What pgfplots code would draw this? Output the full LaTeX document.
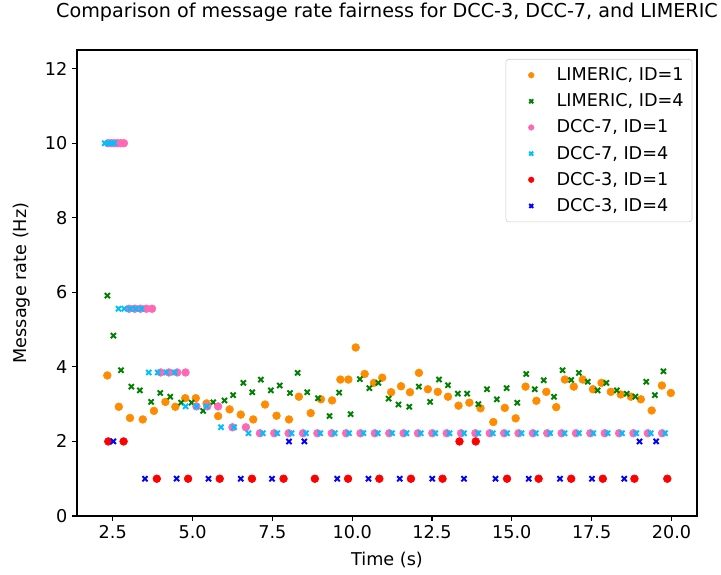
\documentclass[border=0pt]{standalone}
\usepackage{fontspec}
\setmainfont{DejaVu Sans}
\usepackage{pgfplots}
\pgfplotsset{compat=1.18}
\definecolor{limA}{HTML}{FF8C00}
\definecolor{limB}{HTML}{008000}
\definecolor{dsA}{HTML}{FF69B4}
\definecolor{dsB}{HTML}{00BFFF}
\definecolor{dtA}{HTML}{FF0000}
\definecolor{dtB}{HTML}{0000FF}
\definecolor{lgray}{rgb}{0.8,0.8,0.8}
\begin{document}
\begin{tikzpicture}
\useasboundingbox (-55.44pt,-42.48pt) rectangle (463.68pt,371.52pt);
\begin{axis}[
  at={(0,0)}, anchor=south west,
  scale only axis, width=446.4pt, height=335.52pt,
  xmin=1.38, xmax=20.8, ymin=0, ymax=12.5,
  xtick={2.5,5,7.5,10,12.5,15,17.5,20}, ytick={0,2,4,6,8,10,12},
  xtick pos=bottom, ytick pos=left,
  tick align=outside, major tick length=3.5pt,
  every tick/.style={black, line width=0.8pt},
  axis line style={line width=0.8pt},
  /pgf/number format/assume math mode=true,
  xticklabel style={/pgf/number format/fixed, /pgf/number format/fixed zerofill, /pgf/number format/precision=1},
  ticklabel style={font=\fontsize{12.7}{15}\selectfont},
  xlabel={Time (s)}, ylabel={Message rate (Hz)},
  xlabel style={at={(axis description cs:0.5,-0.0944)}, anchor=center, font=\fontsize{12.7}{15}\selectfont},
  ylabel style={at={(axis description cs:-0.0888,0.5)}, anchor=center, font=\fontsize{12.7}{15}\selectfont},
  title={Comparison of message rate fairness for DCC-3, DCC-7, and LIMERIC},
  every axis title shift=0pt,
  title style={at={(axis description cs:0.5,1.0815)}, anchor=center, yshift=0pt, font=\fontsize{13.8}{16}\selectfont},
  legend style={at={(axis description cs:0.9924,0.9807)}, anchor=north east, draw=lgray, rounded corners=2pt, fill=white, font=\fontsize{12.7}{15}\selectfont, row sep=3.9pt, inner sep=4pt},
  legend cell align=left,
  legend image code/.code={\draw[mark repeat=1, #1, mark size=2pt] plot coordinates {(14pt,0pt)}; \path (0pt,0pt) (30pt,0pt);},
]
% LIMERIC, ID=1
\addplot[only marks, mark=*, color=limA, mark size=2.8pt] coordinates {
(2.33,3.77) (2.69,2.93) (3.04,2.63) (3.44,2.59) (3.79,2.82) (4.15,3.06) (4.46,2.93) (4.77,3.16)
(5.10,3.16) (5.44,3.02) (5.80,2.68) (6.16,2.86) (6.51,2.72) (6.90,2.59) (7.27,2.99) (7.63,2.69)
(8.02,2.59) (8.33,3.20) (8.70,2.76) (9.02,3.13) (9.37,3.10) (9.63,3.66) (9.88,3.66) (10.11,4.52)
(10.39,3.81) (10.68,3.57) (10.94,3.71) (11.22,3.32) (11.53,3.48) (11.81,3.32) (12.09,3.84) (12.37,3.40)
(12.68,3.33) (13.00,3.20) (13.33,2.96) (13.67,3.04) (14.02,2.89) (14.42,2.52) (14.78,2.90) (15.12,2.62)
(15.43,3.47) (15.77,3.09) (16.08,3.33) (16.39,2.92) (16.66,3.66) (16.94,3.47) (17.22,3.66) (17.54,3.40)
(17.81,3.57) (18.10,3.33) (18.41,3.26) (18.73,3.20) (19.04,3.13) (19.38,2.83) (19.70,3.50) (19.98,3.30)
};
\addlegendentry{LIMERIC, ID=1}
% LIMERIC, ID=4
\addplot[only marks, mark=x, color=limB, mark size=2.6pt, mark options={line width=1.4pt}] coordinates {
(2.33,5.91) (2.52,4.84) (2.76,3.91) (3.08,3.47) (3.35,3.37) (3.70,3.06) (3.99,3.30) (4.30,3.20)
(4.64,3.04) (4.97,3.04) (5.33,2.82) (5.65,3.05) (6.00,3.10) (6.27,3.24) (6.59,3.57) (6.87,3.32)
(7.14,3.66) (7.45,3.37) (7.73,3.50) (8.05,3.30) (8.29,3.84) (8.59,3.32) (8.93,3.16) (9.29,2.68)
(9.59,3.31) (9.95,2.73) (10.24,3.67) (10.54,3.43) (10.82,3.57) (11.14,3.15) (11.45,2.99) (11.79,2.93)
(12.09,3.47) (12.44,3.06) (12.72,3.66) (13.00,3.51) (13.31,3.28) (13.60,3.28) (13.95,3.00) (14.22,3.40)
(14.53,3.13) (14.84,3.43) (15.17,3.04) (15.45,3.81) (15.72,3.40) (16.00,3.64) (16.32,3.20) (16.59,3.91)
(16.86,3.65) (17.10,3.84) (17.38,3.60) (17.69,3.37) (17.96,3.57) (18.29,3.37) (18.60,3.28) (18.87,3.20)
(19.21,3.60) (19.48,3.24) (19.75,3.88)
};
\addlegendentry{LIMERIC, ID=4}
% DCC-7, ID=1
\addplot[only marks, mark=*, color=dsA, mark size=2.8pt] coordinates {
(2.35,10) (2.45,10) (2.55,10) (2.65,10) (2.75,10) (2.85,10)
(3.01,5.56) (3.19,5.56) (3.37,5.56) (3.55,5.56) (3.73,5.56)
(4.00,3.85) (4.26,3.85) (4.52,3.85) (4.78,3.85)
(5.12,2.94) (5.46,2.94) (5.80,2.94)
(6.25,2.38) (6.67,2.38)
(7.11,2.22) (7.56,2.22) (8.01,2.22) (8.46,2.22) (8.91,2.22) (9.36,2.22) (9.81,2.22) (10.26,2.22)
(10.71,2.22) (11.16,2.22) (11.61,2.22) (12.06,2.22) (12.51,2.22) (12.96,2.22) (13.41,2.22) (13.86,2.22)
(14.31,2.22) (14.76,2.22) (15.21,2.22) (15.66,2.22) (16.11,2.22) (16.56,2.22) (17.01,2.22) (17.46,2.22)
(17.91,2.22) (18.36,2.22) (18.81,2.22) (19.26,2.22) (19.71,2.22)
};
\addlegendentry{DCC-7, ID=1}
% DCC-7, ID=4
\addplot[only marks, mark=x, color=dsB, mark size=2.6pt, mark options={line width=1.4pt}] coordinates {
(2.25,10) (2.35,10) (2.45,10) (2.55,10)
(2.68,5.56) (2.86,5.56) (3.04,5.56) (3.22,5.56) (3.40,5.56)
(3.63,3.85) (3.91,3.85) (4.18,3.85) (4.44,3.85)
(4.78,2.94) (5.12,2.94) (5.44,2.94)
(5.89,2.38) (6.30,2.38)
(6.75,2.22) (7.20,2.22) (7.65,2.22) (8.10,2.22) (8.55,2.22) (9.00,2.22) (9.45,2.22) (9.90,2.22)
(10.35,2.22) (10.80,2.22) (11.25,2.22) (11.70,2.22) (12.15,2.22) (12.60,2.22) (13.05,2.22) (13.50,2.22)
(13.95,2.22) (14.40,2.22) (14.85,2.22) (15.30,2.22) (15.75,2.22) (16.20,2.22) (16.65,2.22) (17.10,2.22)
(17.55,2.22) (18.00,2.22) (18.45,2.22) (18.90,2.22) (19.35,2.22) (19.80,2.22)
};
\addlegendentry{DCC-7, ID=4}
% DCC-3, ID=1
\addplot[only marks, mark=*, color=dtA, mark size=2.8pt] coordinates {
(2.36,2) (2.84,2) (3.88,1) (4.86,1) (5.85,1) (6.86,1) (7.85,1) (8.83,1) (9.87,1) (10.85,1)
(11.84,1) (12.83,1) (13.36,2) (13.87,2) (14.85,1) (15.84,1) (16.86,1) (17.85,1) (18.84,1) (19.87,1)
};
\addlegendentry{DCC-3, ID=1}
% DCC-3, ID=4
\addplot[only marks, mark=x, color=dtB, mark size=2.6pt, mark options={line width=1.4pt}] coordinates {
(2.52,2) (3.51,1) (4.50,1) (5.50,1) (6.51,1) (7.49,1) (8.02,2) (8.50,2) (9.53,1) (10.51,1)
(11.49,1) (12.51,1) (13.50,1) (14.49,1) (15.53,1) (16.51,1) (17.51,1) (18.52,1) (19.00,2) (19.52,2)
};
\addlegendentry{DCC-3, ID=4}
\end{axis}
\end{tikzpicture}
\end{document}
